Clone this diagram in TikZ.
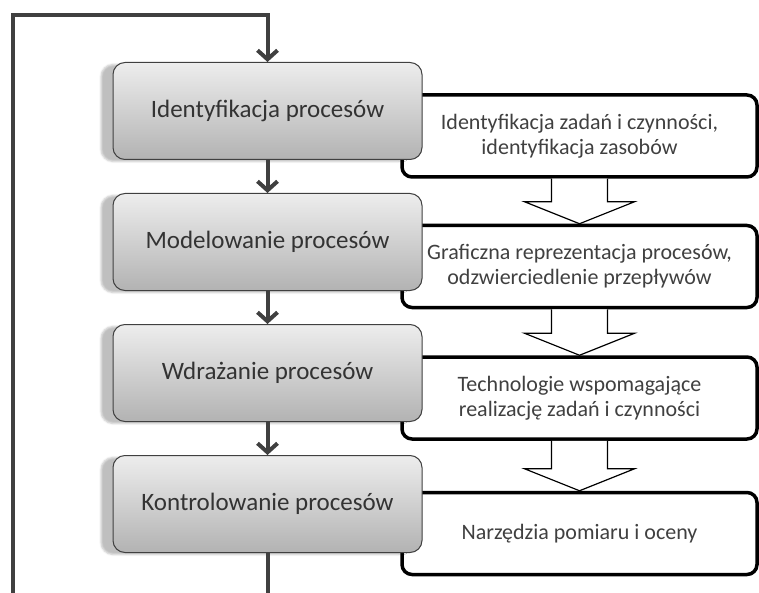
\documentclass[tikz,border=0pt]{standalone}
\usepackage{fontspec}
\setmainfont{Carlito}
\usetikzlibrary{positioning,arrows.meta,shadows.blur}

\begin{document}
\begin{tikzpicture}[x=1pt, y=1pt, node distance=33pt,
    stage/.style={rectangle, rounded corners=12pt, draw=black!75, line width=1pt,
        top color=black!7, bottom color=black!30, minimum width=309pt, minimum height=97pt,
        font=\fontsize{25}{30}\selectfont, text=black!80,
        blur shadow={shadow xshift=-12pt, shadow yshift=-2pt, shadow opacity=25}},
    info/.style={rectangle, rounded corners=10pt, draw=black, line width=3.5pt, fill=white,
        minimum width=355pt, minimum height=82pt, align=center,
        font=\fontsize{22}{25}\selectfont, text=black!75},
    flow/.style={draw=black!75, line width=4pt, -{Straight Barb[length=9pt, width=20pt]}},
    hollow/.style={draw=black, line width=1.2pt, fill=white}]
                \useasboundingbox (0,0) rectangle (759,-593);
                \clip (0,0) rectangle (759,-593);

                % right column
                \node[info] (w1) at (579.5,-136) {Identyfikacja zadań i czynności,\\ identyfikacja zasobów};
                \node[info] (w2) at (579.5,-266.5) {Graficzna reprezentacja procesów,\\ odzwierciedlenie przepływów};
                \node[info] (w3) at (579.5,-398) {Technologie wspomagające\\ realizację zadań i czynności};
                \node[info] (w4) at (579.5,-533.5) {Narzędzia pomiaru i oceny};

                \foreach \a/\b in {w1/w2, w2/w3, w3/w4}
                    \draw[hollow] ([xshift=-28pt]\a.south) -- ([xshift=-28pt, yshift=22pt]\b.north)
                        -- ([xshift=-55pt, yshift=22pt]\b.north) -- (\b.north)
                        -- ([xshift=55pt, yshift=22pt]\b.north) -- ([xshift=28pt, yshift=22pt]\b.north)
                        -- ([xshift=28pt]\a.south);

                % left column
                \node[stage] (g1) at (267.5,-111) {Identyfikacja procesów};
                \node[stage, below=of g1] (g2) {Modelowanie procesów};
                \node[stage, below=of g2] (g3) {Wdrażanie procesów};
                \node[stage, below=of g3] (g4) {Kontrolowanie procesów};

                \draw[flow] (g1) -- (g2);
                \draw[flow] (g2) -- (g3);
                \draw[flow] (g3) -- (g4);

                % loop back
                \coordinate (looptop) at (13,-15);
                \coordinate (loopbot) at (13,-640);
                \draw[flow] (g4.south) |- (loopbot) -- (looptop) -| (g1.north);
            \end{tikzpicture}
\end{document}
